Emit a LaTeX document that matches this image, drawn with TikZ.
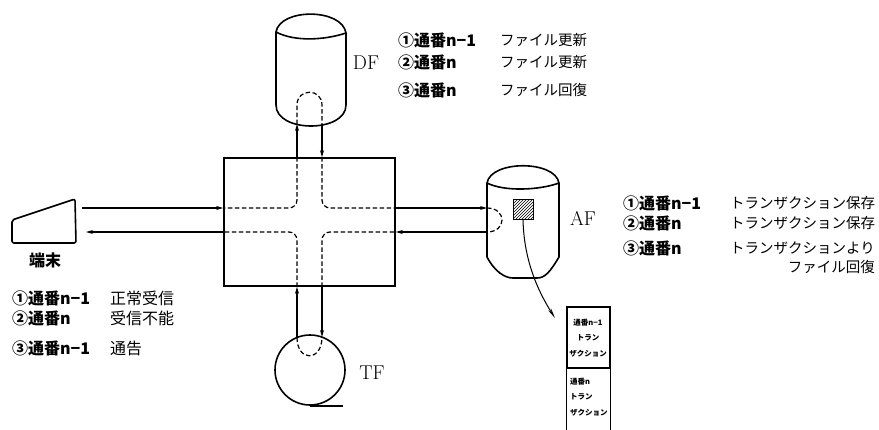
\documentclass[tikz,border=0pt]{standalone}
\usepackage{fontspec}
\newfontfamily\jp{Noto Sans CJK JP}
\usetikzlibrary{arrows.meta, patterns}

\begin{document}
\begin{tikzpicture}[x=1pt, y=-1pt,
		 shapeline/.style={line width=1.6pt},
		 flow/.style={line width=1.2pt, -{Stealth[length=7pt, width=4pt]}},
		 route/.style={line width=1.2pt, dash pattern=on 4.5pt off 2.5pt},
		 numnote/.style={anchor=west, inner sep=0, font=\jp\bfseries\fontsize{16}{16}\selectfont},
		 textnote/.style={anchor=west, inner sep=0, font=\jp\fontsize{14.5}{15}\selectfont},
		 filelabel/.style={inner sep=0, font=\fontsize{20}{20}\selectfont},
		 tinytext/.style={inner sep=0, align=left, font=\jp\bfseries\fontsize{7.5}{15.5}\selectfont},
		 ]
	\useasboundingbox (0,0) rectangle (879,429);

	% Nodes
	\node[draw, shapeline, minimum width=171, minimum height=128, inner sep=0] 	(center_box) 	at (309.5, 222) 	{};
	\node[draw, shapeline, circle, minimum size=70, inner sep=0] 				(tf_disk) 		at (310, 370) 		{};
	\node[draw, line width=1pt, pattern=north east lines, minimum size=20, inner sep=0] (af_record) at (523, 209.5) {};
	\node[draw, line width=1.2pt, minimum width=43, minimum height=61, inner sep=0] (stack_level1) at (588.5, 337.5) {};
	\node[filelabel] 	(df_label) 		at (366, 63) 	{DF};
	\node[filelabel] 	(af_label) 		at (583, 218) 	{AF};
	\node[filelabel] 	(tf_label) 		at (372, 373) 	{TF};
	\node[inner sep=0, font=\jp\bfseries\fontsize{16}{16}\selectfont] (term_label) at (45, 260) {端末};

	% ports on the files
	\coordinate (df_up) 	at (297, 124);
	\coordinate (df_down) 	at (322, 125);
	\coordinate (tf_up) 	at (297, 337.5);
	\coordinate (tf_down) 	at (322, 337);
	\coordinate (af_in) 	at (487, 208);
	\coordinate (af_out) 	at (487, 232);
	\coordinate (term_in) 	at (82, 208);
	\coordinate (term_out) 	at (86, 232);
	\coordinate (stack_in) 	at (555, 318);

	% DF notes
	\node[numnote] 	(df_n1) 	at (398, 40) 	{①通番n−1};
	\node[textnote] (df_t1) 	at (500, 40) 	{ファイル更新};
	\node[numnote] 	(df_n2) 	at (398, 62) 	{②通番n};
	\node[textnote] (df_t2) 	at (500, 62) 	{ファイル更新};
	\node[numnote] 	(df_n3) 	at (398, 90) 	{③通番n};
	\node[textnote] (df_t3) 	at (500, 90) 	{ファイル回復};

	% AF notes
	\node[numnote] 	(af_n1) 	at (623, 203) 	{①通番n−1};
	\node[textnote] (af_t1) 	at (730, 203) 	{トランザクション保存};
	\node[numnote] 	(af_n2) 	at (623, 223) 	{②通番n};
	\node[textnote] (af_t2) 	at (730, 223) 	{トランザクション保存};
	\node[numnote] 	(af_n3) 	at (623, 248) 	{③通番n};
	\node[textnote] (af_t3) 	at (730, 248) 	{トランザクションより};
	\node[textnote, anchor=east] (af_t4) at (875, 267) {ファイル回復};

	% terminal notes
	\node[numnote] 	(term_n1) 	at (12, 298) 	{①通番n−1};
	\node[textnote, font=\jp\fontsize{16}{16}\selectfont] (term_t1) 	at (110, 298) 	{正常受信};
	\node[numnote] 	(term_n2) 	at (12, 318) 	{②通番n};
	\node[textnote, font=\jp\fontsize{16}{16}\selectfont] (term_t2) 	at (110, 318) 	{受信不能};
	\node[numnote] 	(term_n3) 	at (12, 348) 	{③通番n−1};
	\node[textnote, font=\jp\fontsize{16}{16}\selectfont] (term_t3) 	at (110, 348) 	{通告};

	% transaction stack
	\node[tinytext, align=center] (stack_txt1) at (588, 338) {通番n−1\\トラン\\ザクション};
	\draw[line width=1.2pt] (stack_level1.south west) -- ++(0, 75) (stack_level1.south east) -- ++(0, 75);
	\node[tinytext, anchor=west] (stack_txt2) at (570, 397) {通番n\\トラン\\ザクション};

	% Shapes
	\draw[shapeline] (276, 105) -- (276, 32) .. controls (280, 8) and (342, 8) .. (346, 33) -- (346, 105)
		.. controls (346, 133) and (276, 133) .. cycle;
	\draw[shapeline] (276, 32) .. controls (295, 42) and (325, 40) .. (346, 33);
	\draw[shapeline] (487, 257) -- (487, 183) .. controls (491, 160) and (555, 160) .. (559, 183) -- (559, 257)
		.. controls (550, 272) and (545, 278) .. (537, 278) -- (513, 278) .. controls (505, 278) and (495, 272) .. cycle;
	\draw[shapeline] (487, 183) .. controls (505, 192) and (540, 190) .. (559, 183);
	\draw[shapeline, rounded corners=2pt] (12, 220) -- (75, 199) -- (76, 243) -- (12, 243) -- cycle;
	\draw[shapeline] (tf_disk.south) -- ++(33, 0);

	% Lines
	\draw[flow] (center_box.north -| df_up) 	-- 	(df_up);
	\draw[flow] (df_down) 						-- 	(center_box.north -| df_down);
	\draw[flow] (term_in) 						-- 	(center_box.west |- term_in);
	\draw[flow] (center_box.west |- term_out) 	-- 	(term_out);
	\draw[flow] (center_box.east |- af_in) 		-- 	(af_in);
	\draw[flow] (af_out) 						-- 	(center_box.east |- af_out);
	\draw[flow] (tf_up) 						-- 	(center_box.south -| tf_up);
	\draw[flow] (center_box.south -| tf_down) 	-- 	(tf_down);
	\draw[line width=1pt, -{Stealth[length=10pt, width=3.5pt]}] (af_record.south) .. controls (524, 258) and (536, 288) .. (stack_in);

	% dashed routes
	\draw[route, rounded corners=8pt] (center_box.north -| df_up) |- (center_box.west |- term_in);
	\draw[route, rounded corners=8pt] (center_box.north -| df_down) |- (center_box.east |- af_in);
	\draw[route, rounded corners=8pt] (center_box.south -| tf_up) |- (center_box.west |- term_out);
	\draw[route, rounded corners=8pt] (center_box.south -| tf_down) |- (center_box.east |- af_out);
	\draw[route] (df_up) -- (297, 105) .. controls (297, 88) and (322, 88) .. (322, 105) -- (df_down);
	\draw[route] (tf_up) .. controls (297, 362) and (322, 362) .. (tf_down);
	\draw[route] (af_in) .. controls (507, 208) and (507, 232) .. (af_out);
\end{tikzpicture}
\end{document}
